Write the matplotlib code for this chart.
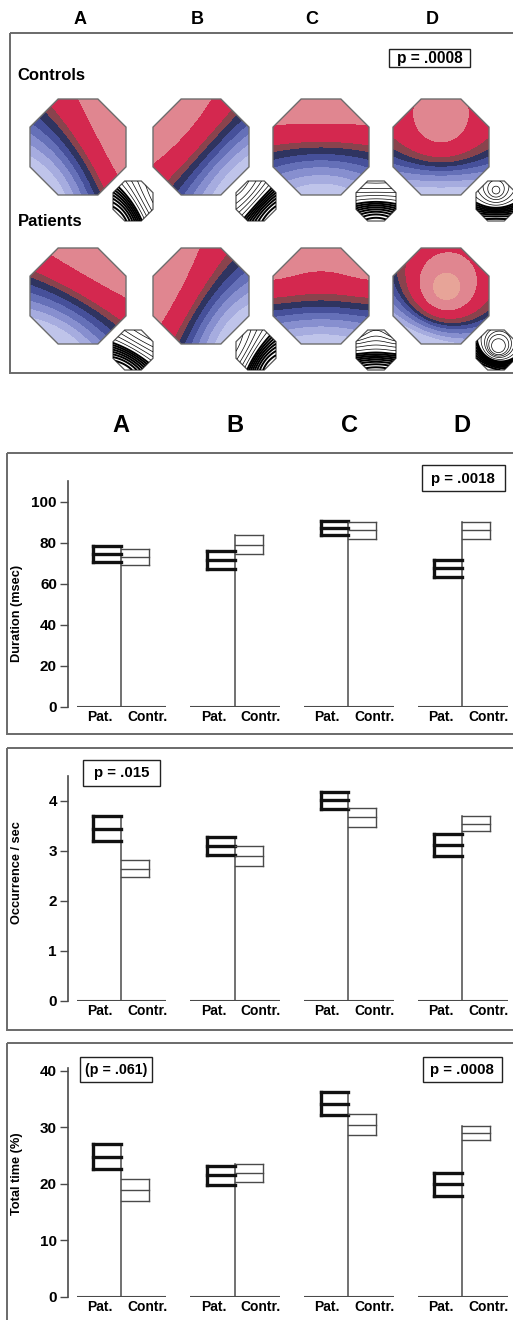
import numpy as np
import matplotlib
matplotlib.use("Agg")
import matplotlib.pyplot as plt
from matplotlib.patches import Polygon, Rectangle

plt.rcParams["font.family"] = ["Liberation Sans", "DejaVu Sans"]
plt.rcParams["font.weight"] = "bold"
plt.rcParams["axes.labelweight"] = "bold"

# ---------------------------------------------------------------- data
GROUPS = ["A", "B", "C", "D"]
SUBJECT_LABELS = ["Pat.", "Contr."]

DUR_PAT = [74.5, 71.5, 87.0, 67.5]
DUR_PAT_ERR = [4.0, 4.3, 3.4, 4.2]
DUR_CON = [73.0, 79.0, 86.0, 86.0]
DUR_CON_ERR = [3.7, 4.5, 4.2, 4.2]

OCC_PAT = [3.45, 3.10, 4.02, 3.12]
OCC_PAT_ERR = [0.25, 0.18, 0.17, 0.22]
OCC_CON = [2.65, 2.90, 3.68, 3.55]
OCC_CON_ERR = [0.17, 0.20, 0.19, 0.15]

TIME_PAT = [24.8, 21.5, 34.2, 19.9]
TIME_PAT_ERR = [2.2, 1.7, 2.0, 2.1]
TIME_CON = [18.9, 22.0, 30.5, 29.0]
TIME_CON_ERR = [1.9, 1.6, 1.8, 1.2]

DUR_TICKS = [0, 20, 40, 60, 80, 100]
OCC_TICKS = [0, 1, 2, 3, 4]
TIME_TICKS = [0, 10, 20, 30, 40]

# scalp map sources (x, y, strength) per class, for controls and patients
CTRL_SOURCES = [
    [(2.6, 0.7, 1.0), (-1.3, -1.4, -1.0)],
    [(-1.6, 1.4, 1.0), (1.6, -1.5, -1.0)],
    [(0.0, 3.0, 1.0), (0.0, -1.9, -1.0)],
    [(0.0, 0.5, 0.6), (0.0, -2.6, -1.0)],
]
PAT_SOURCES = [
    [(1.4, 2.4, 1.0), (-1.0, -1.8, -1.0)],
    [(-2.2, 0.7, 1.0), (1.3, -1.3, -1.0)],
    [(-1.25, 1.1, 0.6), (1.25, 1.1, 0.6), (0.0, -2.2, -1.0)],
    [(0.1, 0.15, 0.8), (-0.8, -2.6, -1.0)],
]
# share of the scalp with negative potential, and height of the positive peak
CTRL_NEG_FRAC = [0.45, 0.45, 0.48, 0.37]
PAT_NEG_FRAC = [0.45, 0.45, 0.43, 0.30]
CTRL_PEAK = [0.89, 0.89, 0.89, 0.89]
PAT_PEAK = [0.89, 0.89, 0.89, 1.0]

P_MAPS = "p = .0008"
P_DUR = "p = .0018"
P_OCC = "p = .015"
P_TIME_A = "(p = .061)"
P_TIME_D = "p = .0008"

# ---------------------------------------------------------------- figure
W, H = 513, 1320
fig = plt.figure(figsize=(W / 100, H / 100), dpi=100)
canvas = fig.add_axes([0, 0, 1, 1])
canvas.set_xlim(0, W)
canvas.set_ylim(H, 0)
canvas.axis("off")

FRAME = "#6a6a6a"
THIN = "#4a4a4a"
THICK = "#111111"

# frames
canvas.add_patch(Rectangle((10, 33), 540, 340, fill=False, ec=FRAME, lw=1.4))
for top, bottom in [(453, 734), (748, 1030), (1043, 1360)]:
    canvas.add_patch(Rectangle((7, top), 540, bottom - top, fill=False, ec=FRAME, lw=1.4))

top_letter_x = [80, 197, 312, 432]
for x, g in zip(top_letter_x, GROUPS):
    canvas.text(x, 19, g, ha="center", va="center", fontsize=13)
panel_letter_x = [121, 235, 349, 462]
for x, g in zip(panel_letter_x, GROUPS):
    canvas.text(x, 425, g, ha="center", va="center", fontsize=17)

canvas.text(17, 75, "Controls", ha="left", va="center", fontsize=12)
canvas.text(18, 222, "Patients", ha="left", va="center", fontsize=12)


def p_box(cx, cy, w, h, txt, size=10.8):
    canvas.add_patch(Rectangle((cx - w / 2, cy - h / 2), w, h, fill=False, ec="#222222", lw=1.0))
    canvas.text(cx, cy + 0.5, txt, ha="center", va="center", fontsize=size)


p_box(429.5, 58, 81, 18, P_MAPS, 11.2)

# ---------------------------------------------------------------- scalp maps
OCT = np.array([(-0.414, 1), (0.414, 1), (1, 0.414), (1, -0.414),
                (0.414, -1), (-0.414, -1), (-1, -0.414), (-1, 0.414)])
BAND_LEVELS = [-1.01, -0.86, -0.71, -0.54, -0.36, -0.18, 0.0, 0.13, 0.53, 0.90, 1.01]
BAND_COLORS = ["#bfc4ea", "#a6acdf", "#878fcf", "#6570b8", "#46509a", "#2f3460",
               "#89434d", "#d4284f", "#e08690", "#e7a498"]

u = np.linspace(-1, 1, 220)
U, V = np.meshgrid(u, u)
inside = (np.abs(U) <= 1) & (np.abs(V) <= 1) & (np.abs(U) + np.abs(V) <= 1.414)


def scalp_field(sources, neg_frac, peak):
    f = np.zeros_like(U)
    for sx, sy, a in sources:
        f += -a * 0.5 * np.log((U - sx) ** 2 + (V - sy) ** 2 + 0.05)
    ranked = np.sort(f[inside])
    q = np.searchsorted(ranked, f) / ranked.size
    z = np.where(q < neg_frac, (q - neg_frac) / neg_frac,
                 (q - neg_frac) / (1 - neg_frac) * peak)
    return np.clip(z, -1.0, 1.0)


def draw_map(cx, cy, z, r=48, rs=20, dx=55, dy=54):
    X = cx + r * U
    Y = cy - r * V
    octo = Polygon(np.column_stack([cx + r * OCT[:, 0], cy - r * OCT[:, 1]]),
                   closed=True, fc="none", ec="#6e6e6e", lw=1.0, zorder=3)
    canvas.add_patch(octo)
    cs = canvas.contourf(X, Y, z, levels=BAND_LEVELS, colors=BAND_COLORS, zorder=2)
    cs.set_clip_path(octo)

    sx, sy = cx + dx, cy + dy
    small = Polygon(np.column_stack([sx + rs * OCT[:, 0], sy - rs * OCT[:, 1]]),
                    closed=True, fc="white", ec="#555555", lw=0.9, zorder=4)
    canvas.add_patch(small)
    Xs = sx + rs * U
    Ys = sy - rs * V
    neg_lv = np.linspace(-0.92, -0.06, 8)
    pos_lv = np.linspace(0.12, 0.84, 5)
    c1 = canvas.contour(Xs, Ys, z, levels=neg_lv, colors="black", linewidths=1.4,
                        linestyles="solid", zorder=5)
    c2 = canvas.contour(Xs, Ys, z, levels=pos_lv, colors="black", linewidths=0.5,
                        linestyles="solid", zorder=5)
    c1.set_clip_path(small)
    c2.set_clip_path(small)


map_x = [78, 201, 321, 441]
for i in range(4):
    draw_map(map_x[i], 147, scalp_field(CTRL_SOURCES[i], CTRL_NEG_FRAC[i], CTRL_PEAK[i]))
    draw_map(map_x[i], 296, scalp_field(PAT_SOURCES[i], PAT_NEG_FRAC[i], PAT_PEAK[i]))

# ---------------------------------------------------------------- bar panels
XL, XR = -0.466, 3.448
BOX_W = 0.245


def px_rect(left, top, right, bottom):
    return [left / W, 1 - bottom / H, (right - left) / W, (bottom - top) / H]


def panel(top, bottom, ymax, ticks, ylabel, label_y, pat, pat_err, con, con_err):
    ax = fig.add_axes(px_rect(68, top, W, bottom))
    ax.set_xlim(XL, XR)
    ax.set_ylim(0, ymax)
    ax.patch.set_alpha(0)
    for s in ["top", "right", "bottom"]:
        ax.spines[s].set_visible(False)
    ax.spines["left"].set_color(THIN)
    ax.spines["left"].set_linewidth(1.2)
    ax.set_xticks([])
    ax.set_yticks(ticks)
    ax.tick_params(axis="y", direction="out", length=5.5, width=1.0, color=THIN,
                   pad=2.5, labelsize=11)
    ax.set_ylabel(ylabel, fontsize=9.2, fontweight="bold")
    ax.yaxis.set_label_coords(-0.101, label_y)

    for i in range(len(GROUPS)):
        x = i
        p_lo, p_hi = pat[i] - pat_err[i], pat[i] + pat_err[i]
        c_lo, c_hi = con[i] - con_err[i], con[i] + con_err[i]
        ax.plot([x - 0.39, x + 0.40], [0, 0], color=THIN, lw=1.5, solid_capstyle="butt")
        ax.plot([x, x], [0, max(p_hi, c_hi)], color=THIN, lw=1.1)
        # patients: heavy open box
        for yv in (p_lo, pat[i], p_hi):
            ax.plot([x - BOX_W, x], [yv, yv], color=THICK, lw=2.4, solid_capstyle="projecting")
        ax.plot([x - BOX_W, x - BOX_W], [p_lo, p_hi], color=THICK, lw=2.4,
                solid_capstyle="projecting")
        # controls: light open box
        for yv in (c_lo, con[i], c_hi):
            ax.plot([x, x + BOX_W], [yv, yv], color=THIN, lw=1.0)
        ax.plot([x + BOX_W, x + BOX_W], [c_lo, c_hi], color=THIN, lw=1.0)
        for dxl, lab in zip((-0.185, 0.23), SUBJECT_LABELS):
            ax.annotate(lab, (x + dxl, 0), xytext=(0, -7.5), textcoords="offset points",
                        ha="center", va="center", fontsize=10, annotation_clip=False)
    return ax


panel(481, 707, 110, DUR_TICKS, "Duration (msec)", 0.416,
      DUR_PAT, DUR_PAT_ERR, DUR_CON, DUR_CON_ERR)
panel(776, 1001, 4.5, OCC_TICKS, "Occurrence / sec", 0.569,
      OCC_PAT, OCC_PAT_ERR, OCC_CON, OCC_CON_ERR)
panel(1068, 1297, 40.5, TIME_TICKS, "Total time (%)", 0.537,
      TIME_PAT, TIME_PAT_ERR, TIME_CON, TIME_CON_ERR)

p_box(463, 478, 83, 26, P_DUR)
p_box(121.5, 773, 77, 26, P_OCC)
p_box(116, 1069.5, 72, 25, P_TIME_A, 10.3)
p_box(462, 1069.5, 79, 25, P_TIME_D)

fig.savefig("out.png", dpi=100)
